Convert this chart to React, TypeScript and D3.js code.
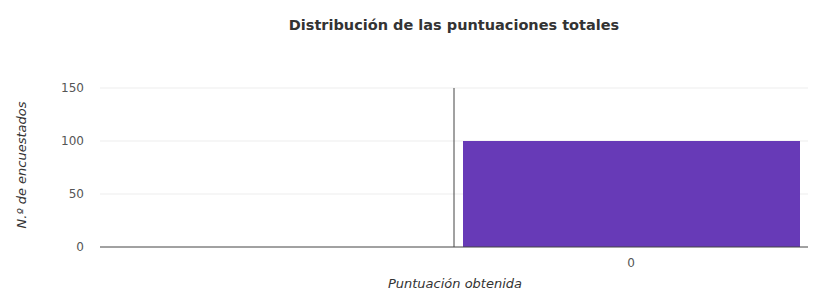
import React from "react";
import * as d3 from "d3";

const title = "Distribución de las puntuaciones totales";
const xLabel = "Puntuación obtenida";
const yLabel = "N.º de encuestados";
const scores = [0];
const counts = [100];
const yTicks = [0, 50, 100, 150];

const App = () => {
  const width = 818;
  const height = 297;
  const margin = { top: 88, right: 10, bottom: 50, left: 100 };

  const x = d3
    .scaleLinear()
    .domain([-1.5, 0.5])
    .range([margin.left, width - margin.right]);

  const y = d3
    .scaleLinear()
    .domain([0, 150])
    .range([height - margin.bottom, margin.top]);

  const font = "'DejaVu Sans', Verdana, sans-serif";

  return (
    <svg
      width={width}
      height={height}
      style={{ position: "absolute", left: 0, top: 0, background: "#fff" }}
    >
      <text
        x={454}
        y={30}
        textAnchor="middle"
        fontFamily={font}
        fontWeight="bold"
        fontSize={14.5}
        fill="#333"
      >
        {title}
      </text>

      {/* grid */}
      {yTicks.map((t) => (
        <g key={t}>
          {t !== 0 && (
            <line
              x1={x(-1.5)}
              x2={x(0.5)}
              y1={y(t)}
              y2={y(t)}
              stroke="#ededed"
              strokeWidth={1}
            />
          )}
          <text
            x={84}
            y={y(t)}
            dy="0.35em"
            textAnchor="end"
            fontFamily={font}
            fontSize={12}
            fill="#555"
          >
            {t}
          </text>
        </g>
      ))}

      {/* bars */}
      {scores.map((s, i) => (
        <rect
          key={s}
          x={x(s - 0.5) + 9}
          width={x(s + 0.5) - x(s - 0.5) - 17}
          y={y(counts[i])}
          height={y(0) - y(counts[i])}
          fill="#673ab7"
        />
      ))}

      {/* baseline */}
      <line
        x1={x(-1.5)}
        x2={x(0.5)}
        y1={y(0)}
        y2={y(0)}
        stroke="#444"
        strokeWidth={1}
      />
      <line
        x1={x(-0.5)}
        x2={x(-0.5)}
        y1={y(150)}
        y2={y(0)}
        stroke="#444"
        strokeWidth={1}
      />

      {/* x tick labels */}
      {scores.map((s) => (
        <text
          key={s}
          x={x(s)}
          y={y(0) + 20}
          textAnchor="middle"
          fontFamily={font}
          fontSize={12}
          fill="#555"
        >
          {s}
        </text>
      ))}

      <text
        x={455}
        y={288}
        textAnchor="middle"
        fontFamily={font}
        fontStyle="italic"
        fontSize={13}
        fill="#333"
      >
        {xLabel}
      </text>
      <text
        transform={`translate(26, 165) rotate(-90)`}
        textAnchor="middle"
        fontFamily={font}
        fontStyle="italic"
        fontSize={13}
        fill="#333"
      >
        {yLabel}
      </text>
    </svg>
  );
};

export default App;
